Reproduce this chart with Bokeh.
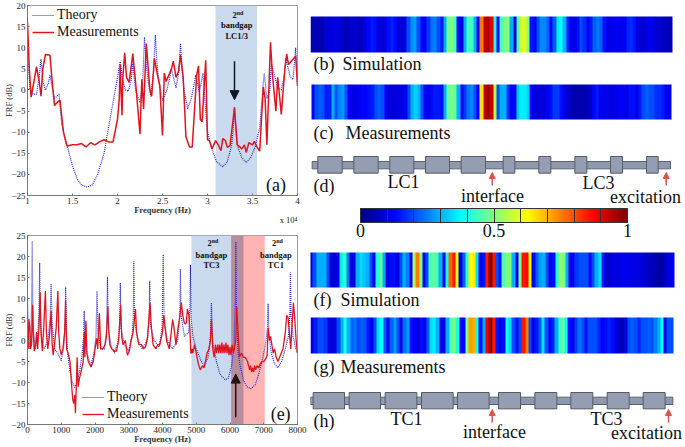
import numpy as np
from bokeh.embed import file_html
from bokeh.resources import INLINE
from bokeh.plotting import figure
from bokeh.layouts import row, column
from bokeh.core.properties import value
from bokeh.models import (Range1d, LinearColorMapper, ColorBar, FixedTicker, Arrow, NormalHead,
                          Legend, LegendItem, Title)

# ---------- data ----------
a_theory_x = [1.0,1.01,1.03,1.06,1.1,1.13,1.15,1.17,1.2,1.23,1.25,1.28,1.3,1.35,1.38,1.42,1.45,1.5,1.55,1.6,1.66,1.72,1.78,1.85,1.9,1.95,2.0,2.03,2.06,2.09,2.12,2.15,2.17,2.2,2.25,2.28,2.3,2.32,2.34,2.37,2.4,2.42,2.44,2.46,2.5,2.55,2.6,2.65,2.68,2.7,2.72,2.74,2.78,2.82,2.87,2.91,2.95,2.98,3.0,3.05,3.1,3.17,3.22,3.27,3.29,3.3,3.31,3.33,3.38,3.43,3.48,3.53,3.58,3.61,3.63,3.66,3.69,3.71,3.75,3.78,3.82,3.85,3.87,3.92,3.95,3.98,4.0]
a_theory_y = [8,6,0,-1,-1,3,7.3,2,0,1.5,3.5,0,-2,-1,-8,-12,-14,-18,-21,-22.5,-23,-22.5,-20,-15,-9,-3,3,6.7,2,0,-.3,2,6.5,0,-3,2,12.5,6,2,-1.5,4,13,6,2,-2.5,0,5,.5,4,11,4,0,-4.5,-2,3.5,-.5,4,-5,-10,-14,-17,-18.2,-17,-13,-8,-4,-8,-13,-16,-17.2,-16,-13.5,-9,-1,4,-2,-.5,6.2,3,.5,0,3,7.5,3,2.5,10,1]
a_meas_x = [1.0,1.02,1.04,1.08,1.1,1.13,1.15,1.17,1.2,1.25,1.27,1.3,1.33,1.36,1.4,1.44,1.5,1.55,1.6,1.65,1.7,1.75,1.8,1.85,1.9,1.95,2.0,2.02,2.03,2.05,2.06,2.08,2.1,2.13,2.17,2.2,2.25,2.27,2.29,2.32,2.36,2.38,2.41,2.44,2.47,2.5,2.52,2.54,2.6,2.62,2.65,2.68,2.7,2.73,2.76,2.8,2.83,2.88,2.9,2.92,2.94,2.98,3.0,3.02,3.05,3.09,3.12,3.15,3.17,3.2,3.22,3.25,3.3,3.33,3.36,3.38,3.41,3.43,3.46,3.5,3.52,3.55,3.58,3.62,3.64,3.66,3.7,3.72,3.76,3.78,3.82,3.86,3.88,3.9,3.96,3.98,4.0]
a_meas_y = [16,5,-1.7,3,5.5,2,-1.5,5,8.4,8.2,3,-3.7,-3,-2.4,-10,-13.3,-13,-13,-12.7,-13.5,-12.5,-13,-12.3,-11.8,-12.3,-12.3,-7,-2,6,-6,3,8.8,3,1.8,8.6,2,-10.5,2.5,-4.5,11,0,-1.5,7.5,4,1,-10.8,4,2,5,6.8,3,4.5,8.3,3,-11,-13.5,-13.5,3.5,5.7,-7,-7.5,7,-11.8,-12,-14,-12,-13,-14.4,-11.5,-12,-13.6,-13.2,-4.2,-13,-13.5,-14,-13,-14.8,-12.5,-13,-12.2,-13.5,-14.5,.7,-2,-13,11.3,4,-5,3,-5.8,5,8.5,6,7.5,8,1]
e_theory_x = [0,30,60,100,125,140,155,180,230,290,340,360,380,430,500,600,670,700,730,800,900,1000,1080,1115,1130,1150,1200,1260,1330,1400,1470,1550,1620,1665,1680,1695,1760,1880,1970,2030,2060,2090,2170,2280,2345,2370,2395,2480,2580,2690,2735,2750,2770,2870,2990,3100,3135,3150,3170,3270,3400,3550,3605,3620,3640,3750,3900,3990,4020,4050,4150,4300,4450,4515,4530,4550,4650,4780,4815,4830,4850,4900,5000,5150,5250,5350,5420,5450,5480,5500,5600,5700,5850,5950,6050,6120,6160,6175,6190,6240,6300,6400,6500,6620,6750,6850,6950,7050,7110,7130,7150,7220,7320,7420,7530,7640,7730,7775,7790,7810,7870,7950,8000]
e_theory_y = [10,0,-2,2,10,23.7,10,2,-2,0,6,18.5,6,-1,-2,0,5,13.5,4,-2,-3,-4.8,-1,4,12.8,2,-4,-7,-10,-11.2,-10,-7,-3,1,7,0,-3,-6,-3,1,11.8,2,-2,-2,3,15.2,3,-1.5,-3,0,4,13.7,3,-1,-2.5,1,6,18.8,5,0,-2,0,5,14.2,4,0,-1.5,3,20.5,4,0,-2,0,6,17,6,1,2,8,18,5,1,-2,-5,-6,-4,1,9,1,-1,-5,-8,-9.3,-9,-6,-1,10,23.5,8,-3,-6,-9.5,-11,-11.5,-10.5,-8,-5,-1,3,8.8,2,-3,-5.5,-6.5,-5,-2,1,6,16.2,6,1,-2,-3]
e_meas_x = [0,20,40,70,90,120,150,170,200,240,270,300,340,375,400,440,480,530,560,600,650,700,730,760,800,850,900,925,960,1000,1050,1100,1130,1160,1200,1260,1300,1340,1370,1400,1420,1450,1470,1500,1540,1600,1650,1680,1700,1730,1760,1800,1880,1950,2020,2050,2080,2130,2170,2230,2300,2340,2380,2410,2440,2500,2570,2640,2700,2760,2790,2830,2900,2960,3020,3070,3130,3200,3230,3300,3380,3440,3500,3560,3630,3670,3720,3800,3860,3920,4000,4040,4080,4120,4160,4200,4260,4300,4340,4400,4460,4500,4560,4600,4650,4700,4740,4780,4810,4840,4860,4880,4900,4950,5000,5060,5120,5180,5230,5270,5320,5380,5420,5450,5490,5530,5570,5600,5640,5670,5700,5730,5760,5790,5820,5850,5880,5910,5940,5970,6000,6030,6060,6100,6130,6170,6200,6240,6280,6340,6400,6450,6520,6550,6580,6610,6640,6670,6700,6730,6760,6800,6850,6900,6950,7000,7050,7100,7130,7170,7200,7240,7280,7320,7370,7420,7470,7520,7570,7640,7680,7720,7760,7800,7840,7880,7920,7960,8000]
e_meas_y = [-1,-2,5,3,-2,-1,8.5,2,-2.5,-1,2,-2,3,11.5,2,-2.5,3,11.8,2,-2,1,7,-1,-3.5,-1,3,11.8,2,-2,-3.5,-2,2,9.5,-2,-3,-5,-10,-14,-15,-13,-17.3,-10,-4,-11,-9,-7,-5,2,-4,4.7,-3,-5,-6.3,-5,-1,.5,-2,6.5,-2,-2,-1,1,8,2,-1,-2,-2.5,-2.5,0,8.5,1,-1,0,-3.5,-2.5,0,2,7.5,2,-1,-1,-2,-1.5,1,9,3,-1,-2,-1,-1,2,6,3,0,-1,-2,2,5,3,-1,3,5,9,6,4,4,7.5,6,3,-3,-3,-2,-3,-1,-3,-5.5,-7,-6,-6.5,-5,-3,-2,0,5,-2,-4,-1,-3,-1,-3,-1,-3,-.5,-3,-1,-3,-.5,-3,-1,-3.5,-1.5,-3.5,-1,-3,-2,0,8,2,-4,-3,-4,-4,-5,-6,-7,-6,-7.5,-6.5,-7.5,-6,-7,-6,-6.5,-5.5,-5,-5,-4.5,-3.5,3,0,1,-1,-3,-2,-4,-5,-4,-3,-2,2,6,5.5,2,-2,4,9,5,0,-3,-11.5]
strip_b = [.06,.06,.05,.05,.08,.09,.1,.1,.09,.08,.06,.07,.08,.08,.07,.07,.1,.13,.15,.14,.1,.08,.1,.14,.16,.14,.1,.08,.1,.2,.27,.28,.2,.13,.12,.18,.24,.25,.2,.15,.3,.48,.5,.44,.14,.1,.3,.44,.44,.3,.1,.75,.93,.96,.9,.4,.12,.45,.5,.5,.3,.1,.45,.58,.6,.5,.15,.12,.2,.26,.26,.22,.13,.22,.36,.38,.3,.15,.11,.1,.14,.2,.17,.11,.15,.22,.24,.22,.14,.1,.1,.11,.12,.1,.12,.16,.17,.15,.1,.08,.08,.1,.12,.1,.08,.08,.07,.06,.06]
strip_c = [.13,.2,.22,.2,.15,.16,.3,.2,.26,.28,.2,.12,.1,.1,.12,.13,.13,.14,.15,.2,.22,.2,.12,.1,.09,.1,.1,.1,.12,.2,.3,.33,.3,.2,.13,.1,.14,.15,.15,.14,.3,.47,.5,.47,.3,.12,.18,.24,.26,.2,.12,.65,.93,.97,.93,.55,.2,.3,.3,.18,.12,.13,.33,.36,.36,.33,.13,.1,.09,.09,.1,.12,.14,.18,.18,.14,.12,.08,.06,.05,.05,.05,.05,.06,.08,.13,.15,.12,.1,.12,.1,.1,.11,.12,.12,.1,.14,.14,.1,.15,.2,.22,.2,.2,.17,.17,.15,.12,.1]
strip_f = [.1,.2,.3,.3,.3,.2,.1,.08,.12,.36,.42,.25,.1,.1,.3,.34,.32,.3,.2,.12,.4,.48,.3,.1,.14,.14,.1,.2,.3,.25,.12,.55,.75,.5,.12,.2,.45,.47,.44,.3,.1,.4,.78,.85,.6,.1,.22,.42,.62,.64,.35,.12,.15,.85,1,.85,.2,.14,.45,.5,.5,.3,.1,.5,.85,.87,.6,.13,.22,.28,.3,.2,.1,.14,.4,.52,.5,.3,.1,.12,.18,.2,.2,.2,.13,.2,.3,.35,.15,.08,.08,.1,.1,.1,.11,.11,.11,.1,.1,.1,.09,.08,.07,.06,.05,.04,.05,.08,.1,.12]
strip_g = [.1,.15,.2,.2,.18,.1,.08,.1,.2,.3,.4,.3,.22,.24,.2,.22,.2,.15,.12,.2,.34,.38,.2,.12,.22,.28,.2,.12,.24,.28,.14,.12,.1,.14,.12,.22,.34,.36,.3,.12,.1,.3,.46,.5,.4,.12,.13,.5,.72,.7,.4,.14,.3,.88,.98,.85,.15,.1,.14,.4,.34,.2,.14,.2,.85,.75,.2,.1,.15,.22,.35,.2,.12,.16,.3,.44,.48,.38,.14,.12,.18,.24,.2,.14,.2,.2,.2,.16,.12,.14,.16,.14,.1,.07,.06,.1,.2,.22,.2,.16,.2,.2,.22,.2,.25,.3,.38,.1,.2,.2]
lc1_blocks = [(52,125),(160,233),(268,340),(375,447),(482,555)]
lc3_blocks = [(608,643),(715,751),(823,859),(930,966),(1038,1073)]
tc1_blocks = [(38,132),(146,240),(254,349),(363,458),(471,566)]
tc3_blocks = [(594,660),(703,769),(811,877),(920,986),(1028,1094)]
bar_ticks = [0,.1,.2,.3,.4,.5,.6,.7,.8,.9,1]
BLUE, RED, FONT = "#2b2bd0", "#e0141e", "Liberation Serif"

def jet(n=256):
    out = []
    for t in np.linspace(0, 1, n):
        r, g, b = [np.clip(1.5 - abs(4*t - c), 0, 1) for c in (3, 2, 1)]
        out.append("#%02x%02x%02x" % (int(r*255), int(g*255), int(b*255)))
    return out
mapper = LinearColorMapper(palette=jet(), low=0, high=1)

def panel(h, xr, yr, top, bottom, xticks, yticks):
    p = figure(width=310, height=h, x_range=Range1d(*xr), y_range=Range1d(*yr), output_backend="svg", title=None,
               toolbar_location=None, min_border_left=27, min_border_right=13, min_border_top=top, min_border_bottom=bottom)
    p.grid.visible = False
    p.outline_line_color = "#9a9a9a"
    for ax in (p.xaxis[0], p.yaxis[0]):
        ax.major_label_text_font = FONT
        ax.major_label_text_font_size = "9px"
        ax.major_label_text_color = "#222222"
        ax.axis_label_text_font = FONT
        ax.axis_label_text_font_size = "8.5px"
        ax.axis_label_text_color = "#333333"
        ax.major_tick_in, ax.major_tick_out = 2, 0
        ax.minor_tick_line_color = None
        ax.axis_line_color = "#777777"
        ax.major_tick_line_color = "#777777"
        ax.major_label_standoff = 2
    p.xaxis[0].ticker = FixedTicker(ticks=xticks)
    p.yaxis[0].ticker = FixedTicker(ticks=yticks)
    p.xaxis[0].axis_label = "Frequency (Hz)"
    p.xaxis[0].axis_label_text_font_style = "bold"
    p.xaxis[0].axis_label_standoff = -2
    p.yaxis[0].axis_label = "FRF (dB)"
    p.yaxis[0].axis_label_text_font_style = "normal"
    p.yaxis[0].axis_label_standoff = -6
    return p

def label(p, x, y, t, size, style="normal", align="center", color="#111111", baseline="middle"):
    p.text([x], [y], text=[t], text_font=value(FONT), text_font_size=value(size), text_font_style=value(style),
           text_align=value(align), text_baseline=value(baseline), text_color=value(color))

def legend(p, lt, lm, loc):
    leg = Legend(items=[LegendItem(label="Theory", renderers=[lt]), LegendItem(label="Measurements", renderers=[lm])],
                 location=loc, background_fill_alpha=0, border_line_color=None, label_text_font=FONT,
                 label_text_font_size="14px", label_text_color="#111111", glyph_width=22, glyph_height=14,
                 spacing=1, padding=0, margin=0, label_standoff=3, label_height=15)
    p.add_layout(leg)

# ---------- panel (a) ----------
pa = panel(225, (1, 4), (-25, 20), 5, 30, [1,1.5,2,2.5,3,3.5,4], list(range(-25,21,5)))
pa.xaxis[0].major_label_overrides = {1:"1",1.5:"1.5",2:"2",2.5:"2.5",3:"3",3.5:"3.5",4:"4"}
pa.quad(left=[3.09], right=[3.55], bottom=[-25], top=[20], fill_color="#c9daee", line_color=None)
lt = pa.line(a_theory_x, a_theory_y, line_color=BLUE, line_width=1.2, line_dash="1 1")
lm = pa.line(a_meas_x, a_meas_y, line_color=RED, line_width=1.5)
legend(pa, lt, lm, (5, 155))
pa.add_layout(Arrow(end=NormalHead(size=9, fill_color="#101828", line_color="#101828"), x_start=3.3, y_start=6.8, x_end=3.3, y_end=-2.3, line_color="#101828", line_width=1.5))
label(pa, 3.325, 17.8, "2", "8.5px", "bold", "right"); label(pa, 3.325, 18.3, "nd", "6px", "bold", "left")
label(pa, 3.325, 15.4, "bandgap", "8.5px", "bold"); label(pa, 3.325, 12.7, "LC1/3", "8.5px", "bold")
label(pa, 3.76, -22.4, "(a)", "18px")
pa.add_layout(Title(text="x 10\u2074", align="right", standoff=-14, text_font=FONT, text_font_size="8.5px", text_font_style="normal", text_color="#222222"), "below")

# ---------- panel (e) ----------
pe = panel(222, (0, 8000), (-20, 25), 10, 23, list(range(0,8001,1000)), list(range(-20,26,5)))
pe.quad(left=[4857], right=[6035], bottom=[-20], top=[25], fill_color="#c9daee", line_color=None)
pe.quad(left=[6035], right=[7030], bottom=[-20], top=[25], fill_color="#ffb3b3", line_color=None)
pe.quad(left=[6035], right=[6400], bottom=[-20], top=[25], fill_color="#b98c9c", line_color=None)
lt2 = pe.line(e_theory_x, e_theory_y, line_color=BLUE, line_width=1.2, line_dash="1 1")
lm2 = pe.line(e_meas_x, e_meas_y, line_color=RED, line_width=1.3)
legend(pe, lt2, lm2, (55, 2))
pe.add_layout(Arrow(end=NormalHead(size=9, fill_color="#2a1018", line_color="#2a1018"), x_start=6170, y_start=-18.3, x_end=6170, y_end=-8, line_color="#2a1018", line_width=1.5))
for cx, name in ((5450, "TC3"), (7360, "TC1")):
    label(pe, cx+10, 23.2, "2", "8.5px", "bold", "right"); label(pe, cx+10, 23.6, "nd", "6px", "bold", "left")
    label(pe, cx, 20.4, "bandgap", "8.5px", "bold"); label(pe, cx, 18, name, "8.5px", "bold")
label(pe, 7500, -17.5, "(e)", "18px")

# ---------- right-hand panels: ranges equal page pixels ----------
pr = figure(width=375, height=447, x_range=Range1d(310, 685), y_range=Range1d(447, 0), output_backend="svg", title=None,
            toolbar_location=None, min_border=0, min_border_left=0, min_border_right=0, min_border_top=0, min_border_bottom=0)
pr.axis.visible = False
pr.grid.visible = False
pr.outline_line_color = None
for vals, x, w, ytop, h in ((strip_b, 310, 362, 16, 36), (strip_c, 311, 360, 84, 35), (strip_f, 309, 365, 252, 35), (strip_g, 310, 363, 317, 36)):
    pr.image(image=[np.array([vals], dtype=float)], x=x, y=ytop, dw=w, dh=h, color_mapper=mapper)

def schematic(ox, oy, rail, big, small, rail_h, big_h):
    Y = lambda z: oy + z/3
    X = lambda z: 300 + z/3
    pr.quad(left=[X(rail[0])], right=[X(rail[1])], top=[Y(rail_h[0])], bottom=[Y(rail_h[1])], fill_color="#8e98ae", line_color="#5b6270", line_width=1)
    bl = big + small
    pr.quad(left=[X(a) for a, b in bl], right=[X(b) for a, b in bl], top=[Y(big_h[0])]*len(bl), bottom=[Y(big_h[1])]*len(bl),
            fill_color="#959db3", line_color="#555b68", line_width=1)

schematic(0, 130, (35, 1110), lc1_blocks, lc3_blocks, (93, 115), (78, 128))
schematic(0, 240, (30, 1117), tc1_blocks, tc3_blocks, (470, 492), (456, 505))
for x0, y0, y1 in ((491.7, 185, 172), (665.7, 185, 172), (491.7, 422, 409), (668, 422, 409)):
    pr.add_layout(Arrow(end=NormalHead(size=6, fill_color="#d9534f", line_color="#d9534f"), x_start=x0, y_start=y0, x_end=x0, y_end=y1, line_color="#d9534f", line_width=1.5))

for x, y, t in ((313, 63, "(b)"), (313, 132, "(c)"), (313, 185, "(d)"), (313, 299, "(f)"), (313, 366, "(g)"), (313, 420, "(h)")):
    label(pr, x, y, t, "18px", "normal", "left")
for x, y, t in ((342, 63, "Simulation"), (345, 132, "Measurements"), (340, 299, "Simulation"), (340, 366, "Measurements")):
    label(pr, x, y, t, "18px", "normal", "left")
for x, y, t in ((403, 181, "LC1"), (598, 182, "LC3"), (492, 195, "interface"), (645, 196, "excitation"),
                (406, 418, "TC1"), (606, 418, "TC3"), (494, 431, "interface"), (646, 432, "excitation")):
    label(pr, x, y, t, "18px")

cb = ColorBar(color_mapper=mapper, ticker=FixedTicker(ticks=bar_ticks), major_label_overrides={0:"0",.5:"0.5",1:"1",.1:"",.2:"",.3:"",.4:"",.6:"",.7:"",.8:"",.9:""},
              width=267, height=14, location=(50, 208), orientation="horizontal", title=None, padding=0, margin=0,
              major_label_text_font=FONT, major_label_text_font_size="18px", major_label_text_color="#111111",
              major_tick_line_color="#333333", major_tick_in=14, major_tick_out=0, bar_line_color="#333333",
              background_fill_alpha=0, border_line_color=None, label_standoff=1)
pr.add_layout(cb)

root = row(column(pa, pe, spacing=0), pr, spacing=0)
open("out.html", "w").write(file_html(root, INLINE))
